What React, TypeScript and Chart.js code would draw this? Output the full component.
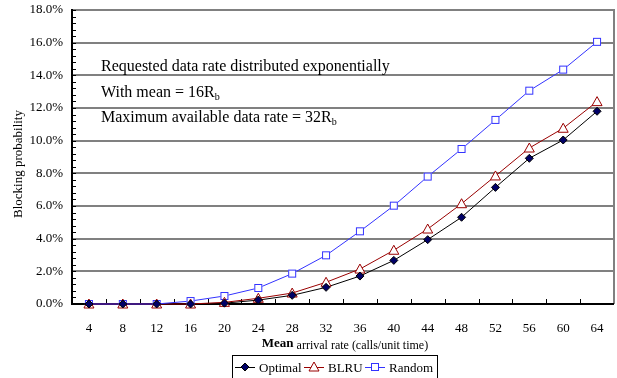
import React, { useEffect, useRef } from "react";
import { Chart, registerables } from "chart.js";

Chart.register(...registerables);

const categories = ["4", "8", "12", "16", "20", "24", "28", "32", "36", "40", "44", "48", "52", "56", "60", "64"];
const optimal = [0, 0, 0, 0, 0.05, 0.24, 0.53, 1.02, 1.71, 2.67, 3.94, 5.31, 7.14, 8.92, 10.04, 11.8];
const blru = [0, 0, 0, 0, 0.1, 0.35, 0.67, 1.33, 2.14, 3.29, 4.59, 6.14, 7.84, 9.55, 10.76, 12.39];
const random = [0, 0, 0, 0.18, 0.49, 0.98, 1.86, 2.98, 4.45, 6.02, 7.8, 9.49, 11.27, 13.06, 14.35, 16.05];
const seriesNames = ["Optimal", "BLRU", "Random"];
const noteLines = ["Requested data rate distributed exponentially", "With mean = 16R", "Maximum available data rate = 32R"];

const SERIF = "'Liberation Serif', 'DejaVu Serif', serif";

function drawMarker(ctx: CanvasRenderingContext2D, kind: number, x: number, y: number) {
  ctx.save();
  ctx.lineWidth = 1;
  if (kind === 0) {
    ctx.fillStyle = "#000066";
    ctx.strokeStyle = "#000000";
    ctx.beginPath();
    ctx.moveTo(x, y - 4);
    ctx.lineTo(x + 4, y);
    ctx.lineTo(x, y + 4);
    ctx.lineTo(x - 4, y);
    ctx.closePath();
    ctx.fill();
    ctx.stroke();
  } else if (kind === 1) {
    ctx.strokeStyle = "#990000";
    ctx.fillStyle = "#ffffff";
    ctx.beginPath();
    ctx.moveTo(x, y - 5);
    ctx.lineTo(x + 5, y + 4);
    ctx.lineTo(x - 5, y + 4);
    ctx.closePath();
    ctx.fill();
    ctx.stroke();
  } else {
    ctx.strokeStyle = "#3333ff";
    ctx.fillStyle = "#ffffff";
    ctx.fillRect(x - 4, y - 4, 8, 8);
    ctx.strokeRect(x - 3.5, y - 3.5, 7, 7);
  }
  ctx.restore();
}

const decorPlugin = {
  id: "decor",
  beforeDatasetsDraw(chart: any) {
    const ctx = chart.ctx as CanvasRenderingContext2D;
    const { left, right, top, bottom } = chart.chartArea;
    const x = chart.scales.x;
    const y = chart.scales.y;
    ctx.save();
    ctx.strokeStyle = "#808080";
    ctx.lineWidth = 2;
    ctx.beginPath();
    ctx.moveTo(left, top);
    ctx.lineTo(right, top);
    ctx.lineTo(right, bottom);
    ctx.stroke();
    ctx.strokeStyle = "#000000";
    ctx.lineWidth = 2;
    ctx.beginPath();
    ctx.moveTo(left, top - 1);
    ctx.lineTo(left, bottom + 1);
    ctx.stroke();
    ctx.lineWidth = 1;
    for (let v = 0; v <= 18.001; v += 0.4) {
      const py = Math.round(y.getPixelForValue(v)) + 0.5;
      ctx.beginPath();
      ctx.moveTo(left, py);
      ctx.lineTo(left + 4, py);
      ctx.stroke();
    }
    ctx.lineWidth = 2;
    ctx.beginPath();
    ctx.moveTo(left - 1, bottom);
    ctx.lineTo(right, bottom);
    ctx.stroke();
    ctx.lineWidth = 1;
    for (let i = 1; i < categories.length; i++) {
      const px = Math.round((x.getPixelForValue(i - 1) + x.getPixelForValue(i)) / 2) + 0.5;
      ctx.beginPath();
      ctx.moveTo(px, bottom);
      ctx.lineTo(px, bottom - 5);
      ctx.stroke();
    }
    ctx.restore();
  },
  afterDraw(chart: any) {
    const ctx = chart.ctx as CanvasRenderingContext2D;
    ctx.save();
    ctx.fillStyle = "#000000";
    ctx.textBaseline = "alphabetic";
    const bases = [71, 97, 122];
    noteLines.forEach((t, i) => {
      ctx.font = "16px " + SERIF;
      ctx.fillText(t, 101, bases[i]);
      if (i > 0) {
        const w = ctx.measureText(t).width;
        ctx.font = "10px " + SERIF;
        ctx.fillText("b", 101 + w, bases[i] + 3);
      }
    });
    ctx.save();
    ctx.translate(22, 164);
    ctx.rotate(-Math.PI / 2);
    ctx.font = "13px " + SERIF;
    ctx.textAlign = "center";
    ctx.fillText("Blocking probability", 0, 0);
    ctx.restore();
    ctx.font = "bold 13px " + SERIF;
    const w1 = ctx.measureText("Mean").width;
    ctx.font = "12px " + SERIF;
    const rest = " arrival rate (calls/unit time)";
    const w2 = ctx.measureText(rest).width;
    const sx = 345 - (w1 + w2) / 2;
    ctx.font = "bold 13px " + SERIF;
    ctx.fillText("Mean", sx, 347);
    ctx.font = "12px " + SERIF;
    ctx.fillText(rest, sx + w1, 349);
    ctx.strokeStyle = "#000000";
    ctx.lineWidth = 1;
    ctx.strokeRect(232.5, 355.5, 205, 30);
    const colors = ["#000000", "#990000", "#3333ff"];
    const lx = [235, 304, 365];
    ctx.font = "13px " + SERIF;
    seriesNames.forEach((n, i) => {
      const yy = 367;
      ctx.strokeStyle = colors[i];
      ctx.lineWidth = 1;
      ctx.beginPath();
      ctx.moveTo(lx[i], yy + 0.5);
      ctx.lineTo(lx[i] + 20, yy + 0.5);
      ctx.stroke();
      drawMarker(ctx, i, lx[i] + 10, yy);
      ctx.fillStyle = "#000000";
      ctx.fillText(n, lx[i] + 24, yy + 5);
    });
    ctx.restore();
  },
};

function makeDataset(label: string, data: number[], color: string, kind: number) {
  return {
    label,
    data,
    borderColor: color,
    borderWidth: 1,
    pointRadius: 0,
    clip: false,
    tension: 0,
    kind,
  } as any;
}

const markerPlugin = {
  id: "markers",
  afterDatasetsDraw(chart: any) {
    const ctx = chart.ctx as CanvasRenderingContext2D;
    chart.data.datasets.forEach((ds: any, di: number) => {
      const meta = chart.getDatasetMeta(di);
      meta.data.forEach((pt: any) => {
        drawMarker(ctx, ds.kind, pt.x, pt.y);
      });
    });
  },
};

export default function App() {
  const ref = useRef<HTMLCanvasElement>(null);
  useEffect(() => {
    document.body.style.margin = "0";
    const chart = new Chart(ref.current!, {
      type: "line",
      data: {
        labels: categories,
        datasets: [
          makeDataset("Random", random, "#3333ff", 2),
          makeDataset("BLRU", blru, "#990000", 1),
          makeDataset("Optimal", optimal, "#000000", 0),
        ],
      },
      options: {
        animation: false,
        responsive: false,
        layout: { padding: { left: 0, right: 3, top: 10, bottom: 0 } },
        plugins: { legend: { display: false }, tooltip: { enabled: false } },
        scales: {
          x: {
            offset: true,
            grid: { display: false },
            border: { display: false },
            ticks: { color: "#000", font: { family: SERIF, size: 13 }, padding: 9, maxRotation: 0, autoSkip: false },
            afterFit: (s: any) => { s.height = 74; s.paddingLeft = 0; s.paddingRight = 0; },
          },
          y: {
            min: 0,
            max: 18,
            grid: { color: "#808080", lineWidth: 2, drawTicks: false },
            border: { display: false },
            ticks: {
              stepSize: 2,
              color: "#000",
              padding: 9,
              font: { family: SERIF, size: 13 },
              callback: (v: any) => Number(v).toFixed(1) + "%",
            },
            afterFit: (s: any) => { s.width = 72; s.paddingTop = 0; s.paddingBottom = 0; },
          },
        },
      },
      plugins: [decorPlugin, markerPlugin],
    });
    return () => chart.destroy();
  }, []);
  return <canvas ref={ref} width={617} height={378} style={{ display: "block" }} />;
}
